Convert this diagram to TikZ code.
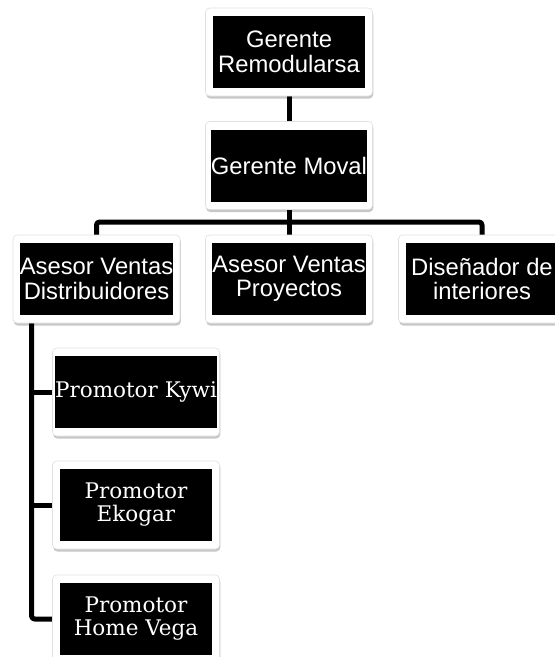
\documentclass[tikz,border=0pt]{standalone}
\usepackage{fontspec}
\setmainfont{Liberation Sans}
\newfontfamily\serifP{DejaVu Serif}
\usetikzlibrary{shadows,calc}
\pgfdeclarelayer{bg}
\pgfsetlayers{bg,main}
\begin{document}
\begin{tikzpicture}[x=1pt,y=-1pt,
  frame/.style={draw=black!12, line width=0.6pt, fill=white, rounded corners=4pt,
    minimum width=167pt, minimum height=88pt, inner sep=0pt,
    drop shadow={shadow xshift=0.8pt, shadow yshift=-2.5pt, opacity=0.22, fill=black}},
  box/.style={fill=black, text=white, minimum width=152pt, minimum height=72pt,
    inner sep=0pt, align=center, font=\fontsize{23.8}{24.5}\selectfont},
  pbox/.style={box, font=\serifP\fontsize{21.5}{23}\selectfont},
  conn/.style={line width=5pt, line join=round, draw=black}]
\useasboundingbox (0,0) rectangle (555,657);

% top levels
\node[frame] (grf) at (289,52) {};
\node[box] (gr) at (289,52) {Gerente\\Remodularsa};
\node[frame] (gmf) at (289,165.5) {};
\node[box] (gm) at (289,165.5) {Gerente Moval};

% second row
\node[frame] (a1f) at (96.5,279) {};
\node[box] (a1) at (96.5,279) {Asesor Ventas\\Distribuidores};
\node[frame] (a2f) at (289,279) {};
\node[box] (a2) at (289,279) {Asesor Ventas\\Proyectos};
\node[frame] (a3f) at (482,279) {};
\node[box] (a3) at (482,279) {Diseñador de\\interiores};

% promotores
\node[frame] (p1f) at (136,392) {};
\node[pbox] (p1) at (136,392) {Promotor Kywi};
\node[frame] (p2f) at (136,505) {};
\node[pbox] (p2) at (136,505) {Promotor\\Ekogar};
\node[frame] (p3f) at (136,619) {};
\node[pbox] (p3) at (136,619) {Promotor\\Home Vega};

\coordinate (bar) at (289,222);
\coordinate (trunk) at ($(a1.south west)+(12,0)$);

\begin{pgfonlayer}{bg}
  \draw[conn] (gr.south) -- (gm.north);
  \draw[conn] (gm.south) -- (a2.north);
  \draw[conn, rounded corners=3pt] (a1.north) |- (bar) -| (a3.north);
  \draw[conn, rounded corners=3pt] (trunk) |- (p3.west);
  \draw[conn] (trunk |- p1.west) -- (p1.west);
  \draw[conn] (trunk |- p2.west) -- (p2.west);
\end{pgfonlayer}
\end{tikzpicture}
\end{document}
